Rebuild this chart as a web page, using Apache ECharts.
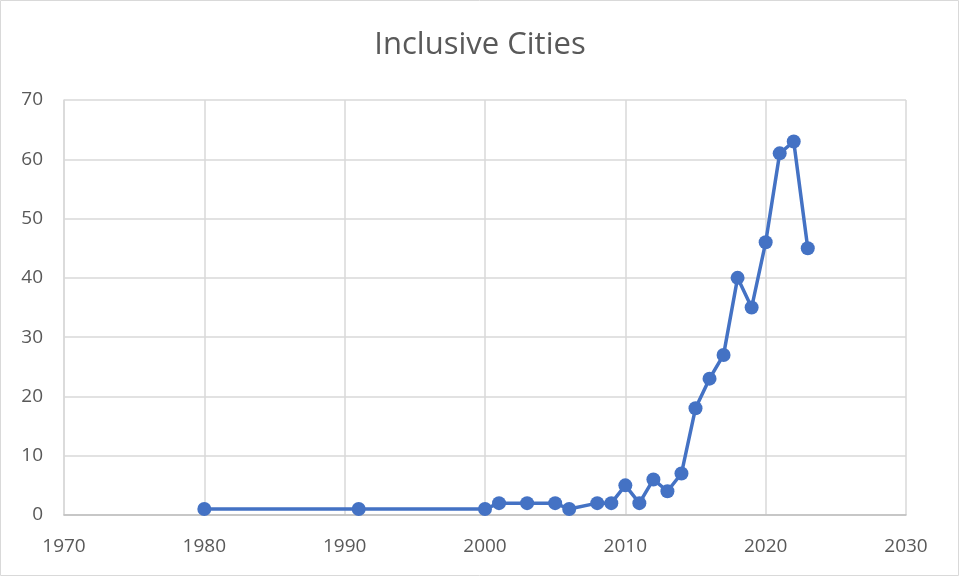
<!DOCTYPE html>
<html>
<head>
<meta charset="utf-8">
<script src="https://cdn.jsdelivr.net/npm/echarts@6/dist/echarts.min.js"></script>
<style>
  html, body { margin: 0; padding: 0; background: #fff; }
  #chart { width: 960px; height: 577px; }
</style>
</head>
<body>
<div id="chart"></div>
<script>
const years = [1980, 1991, 2000, 2001, 2003, 2005, 2006, 2008, 2009, 2010, 2011, 2012,
  2013, 2014, 2015, 2016, 2017, 2018, 2019, 2020, 2021, 2022, 2023]
const counts = [1, 1, 1, 2, 2, 2, 1, 2, 2, 5, 2, 6,
  4, 7, 18, 23, 27, 40, 35, 46, 61, 63, 45]

const chart = echarts.init(document.getElementById('chart'), null, { renderer: 'canvas' })

const labelFont = { color: '#595959', fontSize: 19, fontFamily: 'Open Sans' }

chart.setOption({
  animation: false,
  title: {
    text: 'Inclusive Cities',
    left: 'center',
    top: 25,
    textStyle: { color: '#595959', fontSize: 31, fontWeight: 'normal', fontFamily: 'Open Sans' },
  },
  // thin frame around the chart area
  graphic: [{
    type: 'rect',
    shape: { x: 0.5, y: 0.5, width: 958, height: 575 },
    style: { fill: null, stroke: '#d9d9d9', lineWidth: 1 },
    silent: true,
  }],
  grid: { left: 64, right: 54, top: 100, bottom: 62, containLabel: false },
  xAxis: {
    type: 'value',
    min: 1970,
    max: 2030,
    interval: 10,
    axisLine: { show: true, lineStyle: { color: '#bfbfbf', width: 1.5 } },
    axisTick: { show: false },
    splitLine: { show: true, lineStyle: { color: '#d9d9d9', width: 1.5 } },
    axisLabel: { ...labelFont, margin: 22, formatter: v => String(v) },
  },
  yAxis: {
    type: 'value',
    min: 0,
    max: 70,
    interval: 10,
    axisLine: { show: true, lineStyle: { color: '#d9d9d9', width: 1.5 } },
    axisTick: { show: false },
    splitLine: { show: true, lineStyle: { color: '#d9d9d9', width: 1.5 } },
    axisLabel: { ...labelFont, margin: 21 },
  },
  series: [{
    type: 'line',
    data: years.map((y, i) => [y, counts[i]]),
    symbol: 'circle',
    symbolSize: 14,
    lineStyle: { color: '#4472c4', width: 3.5 },
    itemStyle: { color: '#4472c4' },
  }],
})
</script>
</body>
</html>
